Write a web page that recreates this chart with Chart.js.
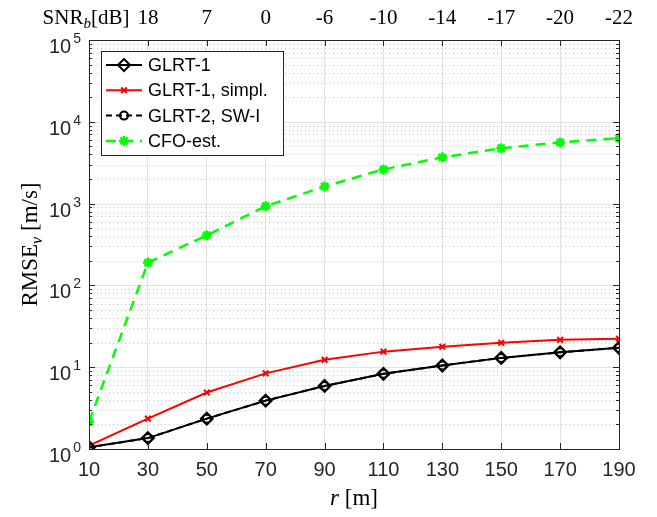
<!DOCTYPE html>
<html>
<head>
<meta charset="utf-8">
<script src="https://cdn.jsdelivr.net/npm/chart.js@4.4.0/dist/chart.umd.min.js"></script>
<style>
  html, body { margin: 0; padding: 0; background: #fff; }
  #wrap { width: 657px; height: 517px; }
</style>
</head>
<body>
<div id="wrap"><canvas id="myChart"></canvas></div>
<script>
'use strict';
// range r [m] on the bottom axis
const rValues = [10, 30, 50, 70, 90, 110, 130, 150, 170, 190];
// RMSE_v [m/s]
const glrt1 = [1.05, 1.36, 2.35, 3.9, 5.9, 8.3, 10.5, 13, 15.2, 17.3];
const glrt1Simpl = [1.1, 2.35, 4.9, 8.4, 12.3, 15.5, 17.8, 19.9, 21.6, 22.3];
const glrt2 = [1.05, 1.36, 2.35, 3.9, 5.9, 8.3, 10.5, 13, 15.2, 17.3];
const cfoEst = [2.15, 190, 410, 930, 1620, 2620, 3680, 4750, 5600, 6300];
// top axis, SNR_b [dB] for r = 30 ... 190
const snrLabels = ['18', '7', '0', '-6', '-10', '-14', '-17', '-20', '-22'];
const yDecades = [0, 1, 2, 3, 4, 5];

const SANS = '"Liberation Sans", Arial, sans-serif';
const SERIF = '"Liberation Serif", "Times New Roman", serif';
const AXIS = '#262626';

function pts(vals) {
    return rValues.map((r, i) => ({ x: r, y: vals[i] }));
}

function line(ctx, x1, y1, x2, y2) {
    ctx.beginPath();
    ctx.moveTo(x1, y1);
    ctx.lineTo(x2, y2);
    ctx.stroke();
}

const matlabLook = {
    id: 'matlabLook',
    beforeDatasetsDraw(chart) {
        const { ctx, chartArea: a, scales: { y } } = chart;
        ctx.save();
        ctx.lineWidth = 1;
        // minor dotted grid
        ctx.strokeStyle = '#c4c4c4';
        ctx.setLineDash([1, 3]);
        for (let k = 0; k < 5; k++) {
            for (let m = 2; m <= 9; m++) {
                const py = Math.round(y.getPixelForValue(m * Math.pow(10, k))) + 0.5;
                line(ctx, a.left, py, a.right, py);
            }
        }
        // major grid
        ctx.setLineDash([]);
        ctx.strokeStyle = '#e2e2e2';
        yDecades.forEach(k => {
            const py = Math.round(y.getPixelForValue(Math.pow(10, k))) + 0.5;
            line(ctx, a.left, py, a.right, py);
        });
        ctx.restore();
    },
    afterDraw(chart) {
        const { ctx, chartArea: a, scales: { x, y } } = chart;
        ctx.save();
        ctx.strokeStyle = AXIS;
        ctx.lineWidth = 1;
        // ticks pointing inwards
        rValues.forEach(r => {
            const px = Math.round(x.getPixelForValue(r)) + 0.5;
            line(ctx, px, a.bottom, px, a.bottom - 6);
            line(ctx, px, a.top, px, a.top + 6);
        });
        for (let k = 0; k < 5; k++) {
            for (let m = 1; m <= 9; m++) {
                const py = Math.round(y.getPixelForValue(m * Math.pow(10, k))) + 0.5;
                const len = m === 1 ? 6 : 3;
                line(ctx, a.left, py, a.left + len, py);
                line(ctx, a.right, py, a.right - len, py);
            }
        }
        // box
        ctx.strokeRect(Math.round(a.left) + 0.5, Math.round(a.top) + 0.5,
            Math.round(a.right - a.left), Math.round(a.bottom - a.top));

        // y tick labels 10^k
        ctx.fillStyle = AXIS;
        ctx.textBaseline = 'alphabetic';
        yDecades.forEach(k => {
            const py = y.getPixelForValue(Math.pow(10, k));
            ctx.font = '14px ' + SANS;
            ctx.textAlign = 'right';
            const supW = ctx.measureText(String(k)).width;
            ctx.fillText(String(k), 81, py + 3);
            ctx.font = '20px ' + SANS;
            ctx.fillText('10', 80 - supW - 1, py + 13);
        });

        // top axis labels
        ctx.font = '21px ' + SERIF;
        ctx.textAlign = 'center';
        ctx.fillStyle = '#000';
        snrLabels.forEach((s, i) => {
            ctx.fillText(s, x.getPixelForValue(rValues[i + 1]), 24);
        });
        // SNR_b[dB] header over r = 10
        const hx = x.getPixelForValue(rValues[0]);
        ctx.textAlign = 'left';
        ctx.font = '21px ' + SERIF;
        const wSnr = ctx.measureText('SNR').width;
        ctx.font = 'italic 15px ' + SERIF;
        const wB = ctx.measureText('b').width;
        ctx.font = '21px ' + SERIF;
        const wDb = ctx.measureText('[dB]').width;
        let sx = hx - (wSnr + wB + wDb) / 2 - 3;
        ctx.fillText('SNR', sx, 24);
        ctx.font = 'italic 15px ' + SERIF;
        ctx.fillText('b', sx + wSnr, 28);
        ctx.font = '21px ' + SERIF;
        ctx.fillText('[dB]', sx + wSnr + wB, 24);

        // x title: r [m]
        ctx.font = 'italic 23px ' + SERIF;
        const wr = ctx.measureText('r ').width;
        ctx.font = '23px ' + SERIF;
        const wm = ctx.measureText('[m]').width;
        const cx = (a.left + a.right) / 2;
        let tx = cx - (wr + wm) / 2;
        ctx.font = 'italic 23px ' + SERIF;
        ctx.fillText('r', tx, 505);
        ctx.font = '23px ' + SERIF;
        ctx.fillText('[m]', tx + wr, 505);

        // y title: RMSE_v [m/s]
        ctx.save();
        ctx.translate(37, (a.top + a.bottom) / 2);
        ctx.rotate(-Math.PI / 2);
        ctx.font = '23px ' + SERIF;
        const w1 = ctx.measureText('RMSE').width;
        ctx.font = 'italic 16px ' + SERIF;
        const w2 = ctx.measureText('v').width;
        ctx.font = '23px ' + SERIF;
        const w3 = ctx.measureText(' [m/s]').width;
        let ty = -(w1 + w2 + w3) / 2;
        ctx.fillText('RMSE', ty, 0);
        ctx.font = 'italic 16px ' + SERIF;
        ctx.fillText('v', ty + w1, 5);
        ctx.font = '23px ' + SERIF;
        ctx.fillText(' [m/s]', ty + w1 + w2, 0);
        ctx.restore();

        // legend inside the axes
        const lx = 101, ly = 51, lw = 182, lh = 104;
        ctx.fillStyle = '#fff';
        ctx.fillRect(lx, ly, lw, lh);
        ctx.strokeStyle = AXIS;
        ctx.lineWidth = 1;
        ctx.strokeRect(lx + 0.5, ly + 0.5, lw, lh);
        ctx.font = '18px ' + SANS;
        ctx.textBaseline = 'middle';
        ctx.textAlign = 'left';
        chart.data.datasets.forEach((ds, i) => {
            const rowY = 65 + i * 25.3;
            ctx.strokeStyle = ds.borderColor;
            ctx.lineWidth = ds.borderWidth;
            ctx.setLineDash(ds.borderDash || []);
            line(ctx, 106, rowY, 142, rowY);
            ctx.setLineDash([]);
            ctx.fillStyle = ds.pointBackgroundColor;
            ctx.lineWidth = ds.pointBorderWidth;
            Chart.helpers.drawPoint(ctx, {
                pointStyle: ds.pointStyle, radius: ds.pointRadius,
                rotation: 0, borderWidth: ds.pointBorderWidth
            }, 124, rowY);
            ctx.fillStyle = '#000';
            ctx.fillText(ds.label, 148, rowY + 1);
        });
        ctx.restore();
    }
};

const context = document.getElementById('myChart').getContext('2d');
const chart = new Chart(context, {
    type: 'line',
    data: {
        datasets: [{
            label: 'GLRT-1',
            data: pts(glrt1),
            borderColor: '#000',
            borderWidth: 2,
            pointStyle: 'rectRot',
            pointRadius: 6,
            pointBorderWidth: 2,
            pointBorderColor: '#000',
            pointBackgroundColor: 'rgba(0,0,0,0)',
            order: 0
        }, {
            label: 'GLRT-1, simpl.',
            data: pts(glrt1Simpl),
            borderColor: '#ff0000',
            borderWidth: 2,
            pointStyle: 'crossRot',
            pointRadius: 4,
            pointBorderWidth: 2,
            pointBorderColor: '#ff0000',
            pointBackgroundColor: '#ff0000',
            order: 1
        }, {
            label: 'GLRT-2, SW-I',
            data: pts(glrt2),
            borderColor: '#000',
            borderWidth: 2,
            borderDash: [6, 4],
            pointStyle: 'circle',
            pointRadius: 4,
            pointBorderWidth: 2,
            pointBorderColor: '#000',
            pointBackgroundColor: 'rgba(0,0,0,0)',
            order: 2
        }, {
            label: 'CFO-est.',
            data: pts(cfoEst),
            borderColor: '#00ff00',
            borderWidth: 2.5,
            borderDash: [10, 7],
            pointStyle: 'star',
            pointRadius: 5,
            pointBorderWidth: 2.5,
            pointBorderColor: '#00ff00',
            pointBackgroundColor: '#00ff00',
            order: 3
        }]
    },
    options: {
        responsive: true,
        maintainAspectRatio: false,
        devicePixelRatio: 1,
        animation: false,
        layout: { padding: { left: 0, right: 38, top: 40, bottom: 0 } },
        plugins: { legend: { display: false }, tooltip: { enabled: false } },
        elements: { line: { tension: 0 } },
        scales: {
            x: {
                type: 'linear',
                min: 10,
                max: 190,
                afterFit: s => { s.height = 68; },
                afterBuildTicks: s => { s.ticks = rValues.map(v => ({ value: v })); },
                ticks: {
                    font: { family: SANS, size: 20 },
                    color: AXIS,
                    padding: 9,
                    maxRotation: 0
                },
                grid: { color: '#e2e2e2', drawTicks: false },
                border: { display: false }
            },
            y: {
                type: 'logarithmic',
                min: 1,
                max: 100000,
                afterFit: s => { s.width = 89; },
                ticks: { display: false },
                grid: { display: false },
                border: { display: false }
            }
        }
    },
    plugins: [matlabLook]
});
</script>
</body>
</html>
